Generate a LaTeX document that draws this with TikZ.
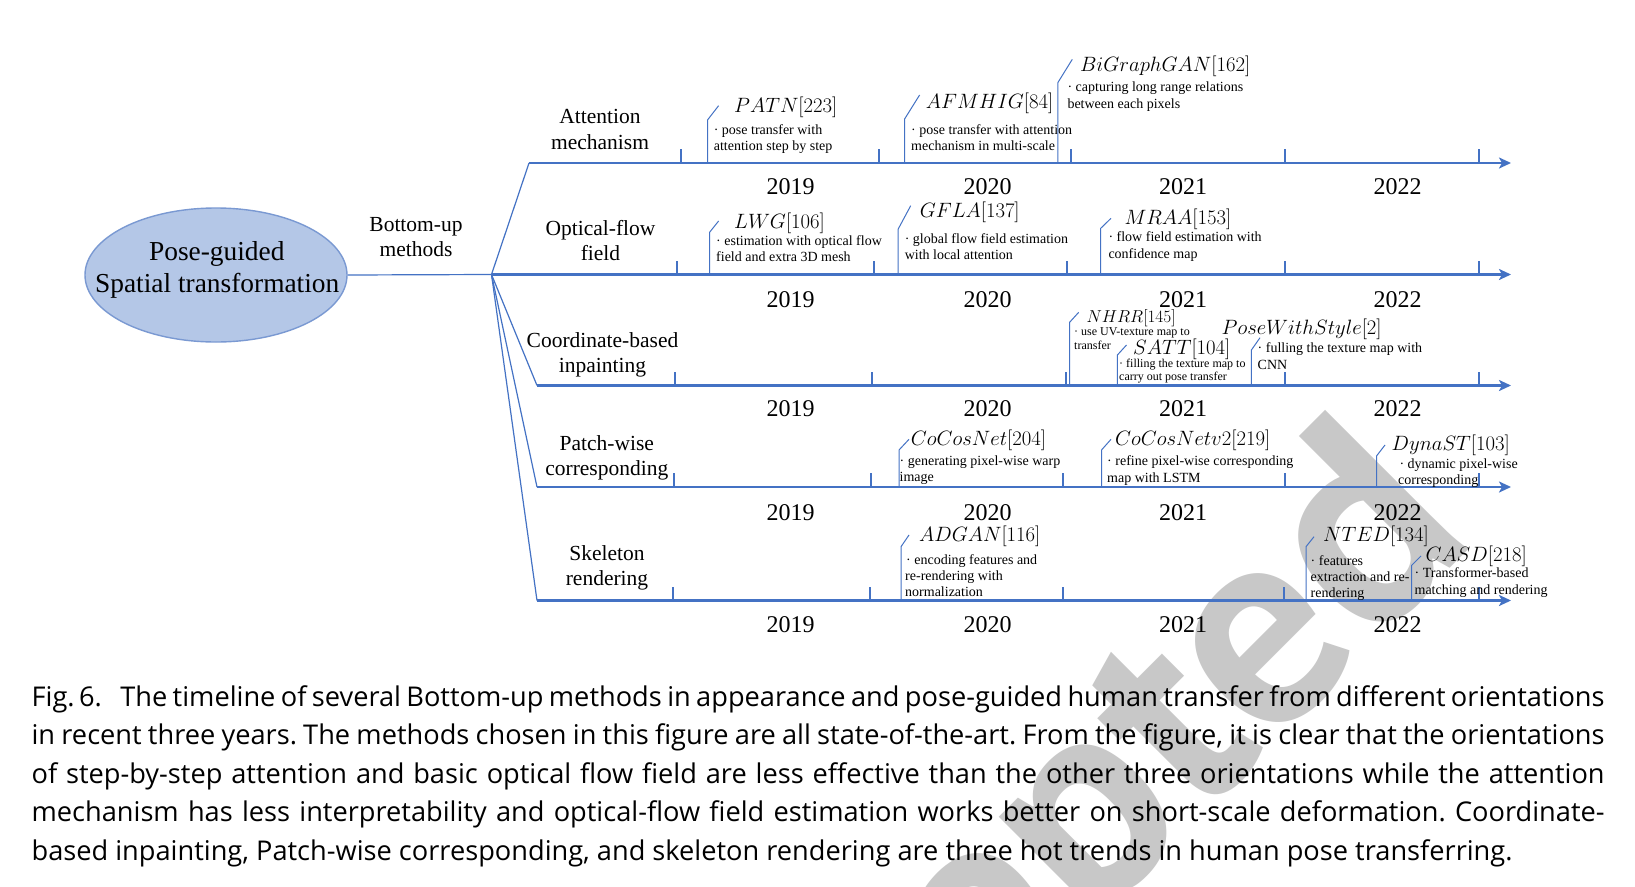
\documentclass[tikz,border=0pt]{standalone}
\usepackage{fontspec}
\setmainfont{Liberation Serif}
\newfontfamily\capfont{Open Sans}
\newfontfamily\wmfont{PT Sans}
\usetikzlibrary{arrows.meta,shapes.geometric}
\definecolor{axblue}{RGB}{68,114,196}
\definecolor{ellfill}{RGB}{180,199,231}
\definecolor{elldraw}{RGB}{122,153,210}
\definecolor{wmgray}{RGB}{200,200,200}
\begin{document}
\begin{tikzpicture}[x=1pt,y=-1pt,
  axisln/.style={draw=axblue,line width=2.6pt,-{Stealth[length=12pt,width=11pt,inset=3pt]}},
  tickln/.style={draw=axblue,line width=1.1pt},
  leader/.style={draw=axblue,line width=1pt},
  branch/.style={draw=axblue,line width=1.2pt},
  big/.style={font=\fontsize{27.4}{32}\selectfont,inner sep=0pt,anchor=base},
  cat/.style={font=\fontsize{21.5}{26}\selectfont,inner sep=0pt,anchor=base},
  yr/.style={font=\fontsize{24}{28}\selectfont,inner sep=0pt,anchor=base},
  mname/.style={font=\fontsize{20}{24}\selectfont,inner sep=0pt,anchor=base west},
  desc/.style={font=\fontsize{14}{16}\selectfont,inner sep=0pt,anchor=base west},
  sdesc/.style={font=\fontsize{12}{14}\selectfont,inner sep=0pt,anchor=base west},
  captxt/.style={font=\capfont\fontsize{27.2}{30}\selectfont,inner sep=0pt,anchor=base west},
  wm/.style={font=\wmfont\bfseries\fontsize{285}{285}\selectfont,text=wmgray,inner sep=0pt,anchor=base east,rotate=45},
]
\useasboundingbox (0,0) rectangle (1635,886);
\fill[white] (0,0) rectangle (1635,886);
% watermark
\node[wm] (wm) at (1478,540) {Accepted};

% root ellipse
\node[ellipse,draw=elldraw,fill=ellfill,line width=1.4pt,minimum width=262pt,minimum height=134pt,inner sep=0pt] (ell) at (216,275) {};
\node[big] (e1) at (216.8,260) {Pose-guided};
\node[big] (e2) at (217.2,292.3) {Spatial transformation};
\node[cat] (bu1) at (416,231.7) {Bottom-up};
\node[cat] (bu2) at (416,256.7) {methods};

% junction and axes
\coordinate (J) at (491.5,274.5);
\coordinate (s1) at (529,163);
\coordinate (s3) at (537,385.5);
\coordinate (s4) at (537,487);
\coordinate (s5) at (537,600.5);
\coordinate (t1) at (1511,163);
\coordinate (t2) at (1511,274.5);
\coordinate (t3) at (1511,385.5);
\coordinate (t4) at (1511,487);
\coordinate (t5) at (1511,600.5);
\draw[branch] (ell.east) -- (J);
\draw[branch] (J) -- (s1);
\draw[branch] (J) -- (s3);
\draw[branch] (J) -- (s4);
\draw[branch] (J) -- (s5);
\draw[axisln] (s1) -- (t1);
\draw[axisln] (J) -- (t2);
\draw[axisln] (s3) -- (t3);
\draw[axisln] (s4) -- (t4);
\draw[axisln] (s5) -- (t5);

% ticks
\foreach \x in {681,879,1071,1285,1479} \draw[tickln] (\x,163) -- (\x,149);
\foreach \x in {677,874,1067,1285,1479} \draw[tickln] (\x,274.5) -- (\x,260.5);
\foreach \x in {675,872,1066,1285,1479} \draw[tickln] (\x,385.5) -- (\x,371.5);
\foreach \x in {674,871,1063,1285,1479} \draw[tickln] (\x,487) -- (\x,473);
\foreach \x in {673,870,1063,1284,1479} \draw[tickln] (\x,600.5) -- (\x,586.5);

% years
\foreach \by [count=\r] in {194.7,307.3,416.3,520.5,632.5}{
  \foreach \yx/\yt [count=\k] in {790.7/2019,987.5/2020,1183.2/2021,1397.5/2022}
    \node[yr] (yr-\r-\k) at (\yx,\by) {\yt};
}

% categories
\node[cat] (c1a) at (600,123.3) {Attention};
\node[cat] (c1b) at (600,149.3) {mechanism};
\node[cat] (c2a) at (600.5,235) {Optical-flow};
\node[cat] (c2b) at (600.5,260.7) {field};
\node[cat] (c3a) at (602.5,347.3) {Coordinate-based};
\node[cat] (c3b) at (602.5,372.3) {inpainting};
\node[cat] (c4a) at (606.8,450) {Patch-wise};
\node[cat] (c4b) at (606.8,475) {corresponding};
\node[cat] (c5a) at (607,560) {Skeleton};
\node[cat] (c5b) at (607,585) {rendering};

% row 1
\draw[leader] (707.5,163) -- (707.5,120) -- (718.6,105.7);
\node[mname] (m1) at (734,112) {$PATN[223]$};
\node[desc] (d1a) at (713.6,134.3) {· pose transfer with};
\node[desc] (d1b) at (713.6,150) {attention step by step};
\draw[leader] (904.6,163) -- (904.6,119) -- (919.6,95);
\node[mname] (m2) at (925.7,108) {$AFMHIG[84]$};
\node[desc] (d2a) at (911,134.3) {· pose transfer with attention};
\node[desc] (d2b) at (911,150) {mechanism in multi-scale};
\draw[leader] (1057.8,163) -- (1057.8,82.7) -- (1072.3,59.3);
\node[mname] (m3) at (1079.8,71) {$BiGraphGAN[162]$};
\node[desc] (d3a) at (1067.3,91.7) {· capturing long range relations};
\node[desc] (d3b) at (1067.3,108.3) {between each pixels};

% row 2
\draw[leader] (709.6,274.5) -- (709.6,232.3) -- (718.6,221);
\node[mname] (m4) at (734,228) {$LWG[106]$};
\node[desc] (d4a) at (716,245.3) {· estimation with optical flow};
\node[desc] (d4b) at (716,261.7) {field and extra 3D mesh};
\draw[leader] (898.2,274.5) -- (898.2,229) -- (910.7,205.7);
\node[mname] (m5) at (919.6,217) {$GFLA[137]$};
\node[desc] (d5a) at (904.6,243) {· global flow field estimation};
\node[desc] (d5b) at (904.6,259.5) {with local attention};
\draw[leader] (1100.7,274.5) -- (1100.7,228.3) -- (1111,218.3);
\node[mname] (m6) at (1124.3,224.8) {$MRAA[153]$};
\node[desc] (d6a) at (1108.3,241.8) {· flow field estimation with};
\node[desc] (d6b) at (1108.3,258.5) {confidence map};

% row 3
\draw[leader] (1069.6,385.5) -- (1069.6,322.3) -- (1078.7,312.3);
\node[mname,font=\fontsize{19}{22}\selectfont] (m7) at (1086.3,322.5) {$NHRR[145]$};
\node[sdesc] (d7a) at (1074,335.5) {· use UV-texture map to};
\node[sdesc] (d7b) at (1074,349.5) {transfer};
\draw[leader] (1117.4,385.5) -- (1117.4,355) -- (1126.5,345);
\node[mname] (m8) at (1133,354.5) {$SATT[104]$};
\node[sdesc] (d8a) at (1119,367.7) {· filling the texture map to};
\node[sdesc] (d8b) at (1119,380.8) {carry out pose transfer};
\draw[leader] (1251.4,385.5) -- (1251.4,350) -- (1260,337.7);
\node[mname] (m9) at (1221.4,334) {$PoseWithStyle[2]$};
\node[desc] (d9a) at (1257.5,352.5) {· fulling the texture map with};
\node[desc] (d9b) at (1257.5,369) {CNN};

% row 4
\draw[leader] (899,487) -- (899,450) -- (909,439.3);
\node[mname] (m10) at (910.7,445.7) {$CoCosNet[204]$};
\node[desc] (d10a) at (899.5,465.5) {· generating pixel-wise warp};
\node[desc] (d10b) at (899.5,481.2) {image};
\draw[leader] (1101.5,487) -- (1101.5,450) -- (1111,439.3);
\node[mname] (m11) at (1114.8,445.7) {$CoCosNetv2[219]$};
\node[desc] (d11a) at (1107,465.5) {· refine pixel-wise corresponding};
\node[desc] (d11b) at (1107,482.3) {map with LSTM};
\draw[leader] (1376.5,487) -- (1376.5,456) -- (1385,445);
\node[mname] (m12) at (1391.5,450.8) {$DynaST[103]$};
\node[desc] (d12a) at (1399.3,468.5) {· dynamic pixel-wise};
\node[desc] (d12b) at (1398,484.2) {corresponding};

% row 5
\draw[leader] (901,600.5) -- (901,546.7) -- (909,535);
\node[mname] (m13) at (919,541) {$ADGAN[116]$};
\node[desc] (d13a) at (906,564.4) {· encoding features and};
\node[desc] (d13b) at (905,580.4) {re-rendering with};
\node[desc] (d13c) at (905,596.8) {normalization};
\draw[leader] (1306,600.5) -- (1306,546.7) -- (1314,536.7);
\node[mname] (m14) at (1323,541) {$NTED[134]$};
\node[desc] (d14a) at (1310.5,565) {· features};
\node[desc] (d14b) at (1310.5,581.3) {extraction and re-};
\node[desc] (d14c) at (1310.5,597.8) {rendering};
\draw[leader] (1411.5,600.5) -- (1411.5,565.5) -- (1421,556);
\node[mname] (m15) at (1425.3,561.5) {$CASD[218]$};
\node[desc] (d15a) at (1414.4,577.7) {· Transformer-based};
\node[desc] (d15b) at (1414.4,594.2) {matching and rendering};

% caption
\node[captxt] (cap1) at (31.4,706.5) {\makebox[1573pt][s]{Fig.\,6.\hspace{0.35em} The timeline of several Bottom-up methods in appearance and pose-guided human transfer from different orientations}};
\node[captxt] (cap2) at (31.4,744.9) {\makebox[1573pt][s]{in recent three years.\ The methods chosen in this figure are all state-of-the-art.\ From the figure, it is clear that the orientations}};
\node[captxt] (cap3) at (31.4,783.3) {\makebox[1573pt][s]{of step-by-step attention and basic optical flow field are less effective than the other three orientations while the attention}};
\node[captxt] (cap4) at (31.4,821.7) {\makebox[1573pt][s]{mechanism has less interpretability and optical-flow field estimation works better on short-scale deformation.\ Coordinate-}};
\node[captxt] (cap5) at (31.4,860.1) {based inpainting, Patch-wise corresponding, and skeleton rendering are three hot trends in human pose transferring.};
\end{tikzpicture}
\end{document}
